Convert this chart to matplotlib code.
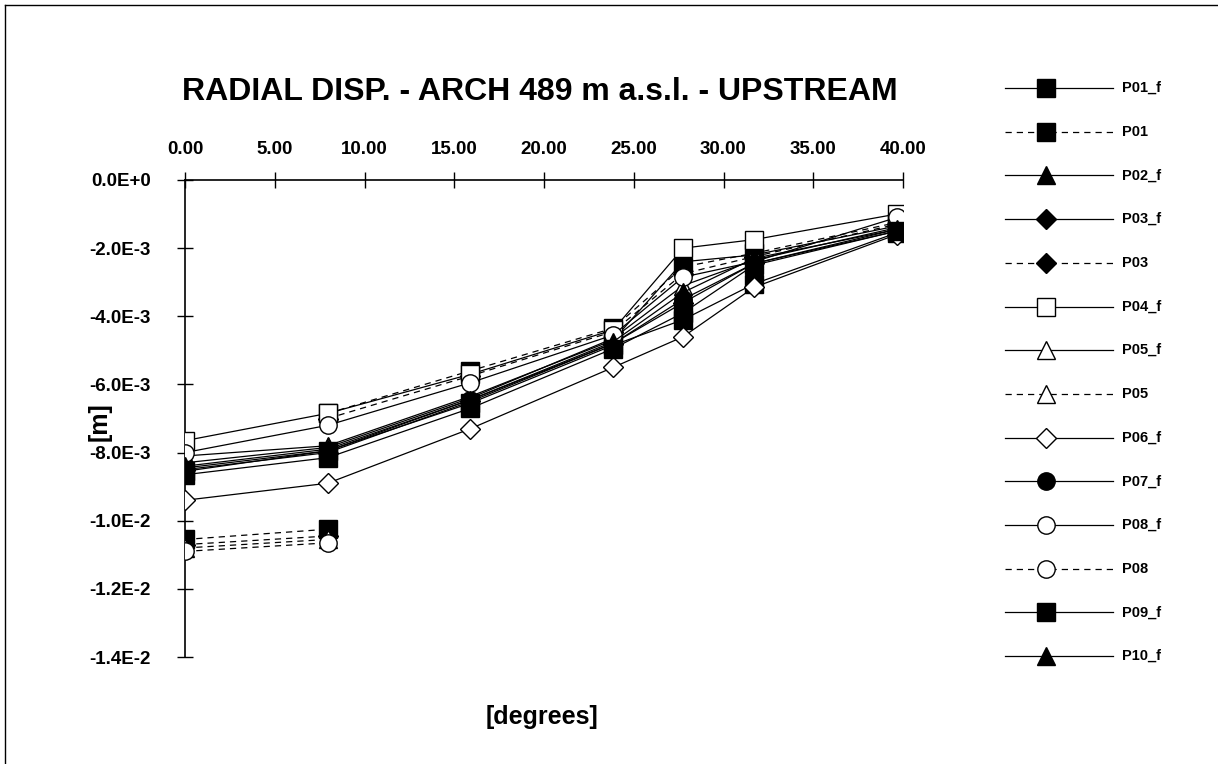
import numpy as np
import matplotlib
matplotlib.use("Agg")
import matplotlib.pyplot as plt
from matplotlib.ticker import FuncFormatter, MultipleLocator
from matplotlib.lines import Line2D

plt.rcParams['font.family'] = ['Liberation Sans', 'DejaVu Sans']
plt.rcParams['font.weight'] = 'bold'

# --- data (displacements in 1E-3 m) ---
degrees = [0.0, 7.95, 15.9, 23.85, 27.75, 31.7, 39.65]
# dashed series: short piece at 0..8 then a break, then 8..40
degrees_dashed = [0.0, 7.95, np.nan, 7.95, 15.9, 23.85, 27.75, 31.7, 39.65]

p01_f = [-8.55, -7.95, -6.55, -4.85, -4.10, -3.05, -1.55]
p01 = [-10.55, -10.25, np.nan, -6.85, -5.60, -4.35, -2.55, -2.15, -1.25]
p02_f = [-8.10, -7.80, -6.35, -4.70, -2.40, -2.20, -1.35]
p03_f = [-8.50, -8.00, -6.50, -4.80, -3.60, -2.45, -1.50]
p03 = [-10.70, -10.45, np.nan, -7.00, -5.75, -4.45, -2.75, -2.25, -1.30]
p04_f = [-7.65, -6.85, -5.70, -4.40, -2.00, -1.75, -1.00]
p05_f = [-8.30, -7.85, -6.40, -4.65, -3.10, -2.35, -1.40]
p05 = [-10.80, -10.55, np.nan, np.nan, np.nan, np.nan, np.nan, np.nan, np.nan]
p06_f = [-9.40, -8.90, -7.30, -5.50, -4.60, -3.15, -1.60]
p07_f = [-8.45, -7.95, -6.45, -4.80, -3.50, -2.45, -1.45]
p08_f = [-8.00, -7.20, -5.95, -4.55, -2.85, -2.40, -1.10]
p08 = [-10.90, -10.65, np.nan, np.nan, np.nan, np.nan, np.nan, np.nan, np.nan]
p09_f = [-8.65, -8.15, -6.70, -4.95, -3.90, -2.50, -1.50]
p10_f = [-8.40, -7.90, -6.45, -4.75, -3.30, -2.30, -1.45]

DASH = (0, (5, 4))
# label, x, y, linestyle, marker, filled
series = [
    ("P01_f", degrees, p01_f, '-', 's', True),
    ("P01", degrees_dashed, p01, DASH, 's', True),
    ("P02_f", degrees, p02_f, '-', '^', True),
    ("P03_f", degrees, p03_f, '-', 'D', True),
    ("P03", degrees_dashed, p03, DASH, 'D', True),
    ("P04_f", degrees, p04_f, '-', 's', False),
    ("P05_f", degrees, p05_f, '-', '^', False),
    ("P05", degrees_dashed, p05, DASH, '^', False),
    ("P06_f", degrees, p06_f, '-', 'D', False),
    ("P07_f", degrees, p07_f, '-', 'o', True),
    ("P08_f", degrees, p08_f, '-', 'o', False),
    ("P08", degrees_dashed, p08, DASH, 'o', False),
    ("P09_f", degrees, p09_f, '-', 's', True),
    ("P10_f", degrees, p10_f, '-', '^', True),
]
msize = {'s': 12.5, '^': 13, 'D': 10.5, 'o': 12.5}

W, H = 1218, 764
fig = plt.figure(figsize=(W / 100, H / 100), dpi=100)

ax = fig.add_axes([185 / W, 1 - 657 / H, 718 / W, 477 / H])
for name, xs, ys, ls, mk, filled in series:
    ax.plot(xs, np.array(ys) * 1e-3, linestyle=ls, color='black', lw=0.9,
            marker=mk, ms=msize[mk], mec='black', mew=1.0,
            mfc='black' if filled else 'white', zorder=3)

ax.set_xlim(0, 40)
ax.set_ylim(-0.014, 0)
ax.xaxis.set_major_locator(MultipleLocator(5))
ax.yaxis.set_major_locator(MultipleLocator(0.002))
ax.xaxis.set_major_formatter(FuncFormatter(lambda v, p: f"{v:.2f}"))


def sci_fmt(v, p):
    if abs(v) < 1e-12:
        return "0.0E+0"
    m, e = f"{v:.1E}".split("E")
    return f"{m}E{int(e):+d}"


ax.yaxis.set_major_formatter(FuncFormatter(sci_fmt))
ax.xaxis.tick_top()
ax.spines['right'].set_visible(False)
ax.spines['bottom'].set_visible(False)
ax.spines['left'].set_linewidth(1.2)
ax.spines['top'].set_linewidth(1.2)
ax.tick_params(axis='both', direction='inout', length=11, width=1.0,
               labelsize=13.5)
ax.tick_params(axis='x', pad=10)
ax.tick_params(axis='y', pad=19)
for lab in ax.get_xticklabels() + ax.get_yticklabels():
    lab.set_fontweight('bold')

fig.text(540 / W, 1 - 92 / H, "RADIAL DISP. - ARCH 489 m a.s.l. - UPSTREAM",
         ha='center', va='center', fontsize=23, fontweight='bold')
fig.text(542 / W, 1 - 717 / H, "[degrees]", ha='center', va='center',
         fontsize=18, fontweight='bold')
fig.text(100 / W, 1 - 422 / H, "[m]", ha='center', va='center',
         rotation=90, fontsize=18, fontweight='bold')

# legend drawn in its own pixel-space axes
lax = fig.add_axes([0, 0, 1, 1], facecolor='none')
lax.set_xlim(0, W)
lax.set_ylim(H, 0)
lax.axis('off')
row_y0, row_dy = 88, 43.7
for i, (name, xs, ys, ls, mk, filled) in enumerate(series):
    y = row_y0 + i * row_dy
    lax.add_line(Line2D([1005, 1113], [y, y], linestyle=ls, color='black', lw=0.9))
    lax.add_line(Line2D([1046], [y], marker=mk, ms=msize[mk], color='black',
                        mec='black', mew=1.0, mfc='black' if filled else 'white'))
    lax.text(1122, y, name, ha='left', va='center', fontsize=10.5, fontweight='bold')

# page border (top and left, as in the scan)
lax.add_line(Line2D([5, W], [5, 5], color='black', lw=1.0))
lax.add_line(Line2D([5, 5], [5, H], color='black', lw=1.0))

fig.savefig("out.png", dpi=100)
